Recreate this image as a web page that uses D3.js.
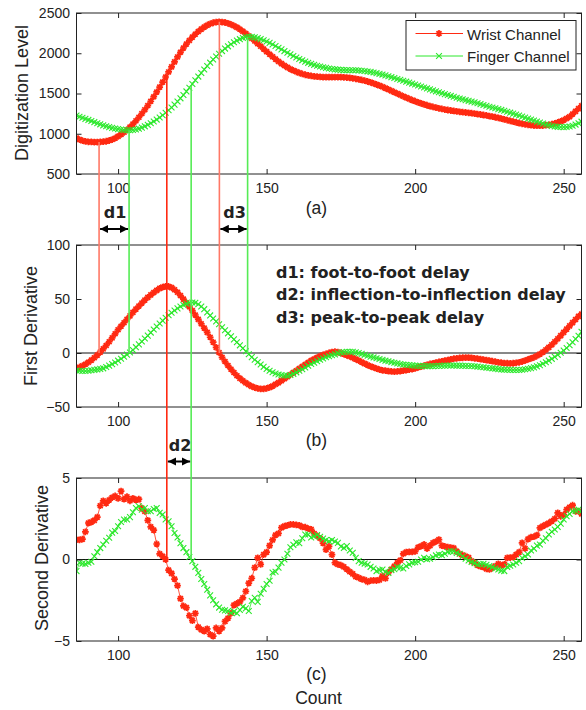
<!DOCTYPE html>
<html>
<head>
<meta charset="utf-8">
<script src="https://cdn.jsdelivr.net/npm/d3@7"></script>
<style>
body { margin: 0; background: #fff; }
text { font-family: "Liberation Sans", Arial, sans-serif; fill: #222; }
</style>
</head>
<body>
<svg id="svg"></svg>
<script>
// sample counts on the x axis (one sample per count)
var counts = d3.range(86, 257);

// (a) raw channels, digitization level
var wristLevel = [
	947, 928, 914, 905, 900, 898, 897, 897, 898, 901,
	907, 916, 928, 945, 967, 991, 1018, 1048, 1082, 1120,
	1161, 1204, 1251, 1299, 1350, 1404, 1460, 1519, 1580, 1642,
	1705, 1768, 1831, 1893, 1954, 2012, 2065, 2114, 2159, 2200,
	2237, 2270, 2300, 2326, 2348, 2366, 2379, 2387, 2390, 2388,
	2382, 2372, 2358, 2341, 2321, 2298, 2272, 2244, 2215, 2184,
	2152, 2119, 2086, 2053, 2020, 1988, 1957, 1927, 1898, 1871,
	1847, 1825, 1804, 1786, 1770, 1756, 1743, 1733, 1725, 1718,
	1713, 1709, 1706, 1704, 1703, 1703, 1703, 1704, 1704, 1703,
	1701, 1698, 1694, 1689, 1683, 1676, 1668, 1659, 1649, 1638,
	1625, 1612, 1598, 1583, 1567, 1550, 1533, 1516, 1499, 1482,
	1465, 1449, 1433, 1418, 1404, 1390, 1377, 1365, 1354, 1343,
	1333, 1324, 1316, 1308, 1301, 1295, 1289, 1283, 1278, 1273,
	1268, 1264, 1260, 1255, 1250, 1245, 1239, 1233, 1227, 1220,
	1213, 1205, 1197, 1188, 1179, 1170, 1160, 1151, 1141, 1132,
	1124, 1117, 1111, 1106, 1102, 1100, 1100, 1102, 1106, 1111,
	1119, 1128, 1140, 1154, 1170, 1190, 1212, 1245, 1278, 1312,
	1348];
var fingerLevel = [
	1226, 1212, 1198, 1185, 1172, 1158, 1144, 1130, 1117, 1104,
	1093, 1082, 1073, 1065, 1058, 1052, 1047, 1044, 1043, 1046,
	1053, 1063, 1076, 1092, 1110, 1130, 1152, 1176, 1202, 1230,
	1260, 1292, 1326, 1362, 1400, 1440, 1482, 1526, 1572, 1618,
	1664, 1710, 1755, 1799, 1842, 1883, 1922, 1959, 1994, 2027,
	2058, 2086, 2112, 2136, 2157, 2175, 2190, 2200, 2205, 2203,
	2197, 2188, 2176, 2162, 2146, 2129, 2110, 2090, 2069, 2048,
	2027, 2006, 1986, 1966, 1947, 1929, 1912, 1896, 1881, 1868,
	1856, 1845, 1835, 1826, 1818, 1811, 1805, 1800, 1796, 1793,
	1791, 1790, 1789, 1789, 1788, 1786, 1783, 1779, 1774, 1768,
	1761, 1753, 1744, 1735, 1725, 1714, 1703, 1692, 1681, 1670,
	1659, 1647, 1635, 1623, 1611, 1599, 1587, 1575, 1563, 1551,
	1539, 1527, 1515, 1503, 1492, 1481, 1470, 1459, 1448, 1437,
	1428, 1418, 1409, 1399, 1390, 1379, 1368, 1357, 1347, 1336,
	1326, 1316, 1306, 1296, 1286, 1274, 1262, 1250, 1238, 1226,
	1213, 1200, 1188, 1176, 1164, 1151, 1139, 1127, 1115, 1105,
	1097, 1090, 1086, 1083, 1082, 1084, 1090, 1100, 1114, 1131,
	1150];

// (b) first derivative
var wristFirst = [
	-14.2, -13.2, -11.9, -10.4, -8.6, -6.6, -4.4, -2, 0.8, 3.8,
	7, 10.4, 14, 17.8, 21.6, 24.8, 28, 31.2, 34.4, 37.6,
	40.6, 43.5, 46.3, 49, 51.5, 53.8, 56, 58, 59.8, 61,
	61.7, 61.6, 60.5, 58.6, 56.2, 53.2, 49.9, 46.4, 42.8, 39.2,
	35.2, 31.1, 27.1, 23.1, 19.1, 14.6, 10, 5.2, 0.4, -4,
	-7.9, -11.6, -15, -18.1, -21, -23.5, -25.7, -27.7, -29.4, -30.9,
	-32, -32.8, -33.2, -33.3, -32.7, -31.8, -30.6, -29, -27.4, -25.6,
	-23.8, -22, -20.1, -18.2, -16.4, -14.5, -12.6, -10.8, -8.9, -7.1,
	-5.6, -4.2, -2.9, -1.8, -0.9, 0, 0.8, 1.2, 0.8, 0,
	-1, -2.1, -3.2, -4.4, -5.6, -7, -8.4, -9.8, -11.1, -12.3,
	-13.4, -14.4, -15.3, -16, -16.4, -16.8, -17.1, -17.3, -17.1, -16.7,
	-16.3, -15.8, -15.3, -14.8, -14.2, -13.4, -12.6, -11.8, -11, -10.2,
	-9.6, -8.9, -8.3, -7.7, -7.1, -6.5, -5.9, -5.3, -4.9, -4.6,
	-4.4, -4.3, -4.3, -4.5, -4.9, -5.3, -5.7, -6.2, -6.6, -7.1,
	-7.6, -8.1, -8.6, -9, -9.3, -9.5, -9.6, -9.5, -9.1, -8.6,
	-7.9, -7, -6, -5, -4, -2.6, -1, 0.8, 3, 5.2,
	7.7, 10.4, 13.2, 16.1, 19.1, 22.1, 25.1, 28.1, 31, 33.9,
	36.1];
var fingerFirst = [
	-16.2, -16.5, -16.7, -16.7, -16.4, -16, -15.6, -15.2, -14.7, -14.2,
	-13, -11.7, -10.3, -8.8, -7.1, -5.3, -3.4, -1.5, 0.5, 2.7,
	5.4, 8, 10.7, 13.4, 16.1, 18.9, 21.7, 24.5, 27.3, 30,
	32.6, 35, 37.3, 39.4, 41.3, 43, 44.5, 45.6, 46.5, 46.8,
	46.5, 45.2, 43.1, 40.6, 37.6, 34.8, 32, 29.3, 26.6, 23.8,
	21, 18.2, 15.4, 12.6, 9.9, 7.1, 4.4, 1.6, -1.1, -3.8,
	-6.2, -8.5, -10.7, -12.8, -14.8, -16.4, -17.8, -19, -19.9, -20.4,
	-20.8, -21, -20.4, -19.3, -17.9, -16.5, -15, -13.4, -11.8, -10.2,
	-8.9, -7.6, -6.3, -5.1, -4, -3, -2.1, -1.3, -0.3, 0.4,
	0.8, 1.1, 1.2, 1.1, 0.6, -0.1, -0.8, -1.7, -2.5, -3.4,
	-4.1, -4.9, -5.6, -6.4, -7.1, -7.7, -8.4, -9, -9.6, -10.2,
	-10.6, -10.9, -11.2, -11.5, -11.7, -11.9, -12, -12.1, -12.2, -12.3,
	-12.2, -12, -11.9, -11.8, -11.7, -11.6, -11.6, -11.6, -11.7, -11.7,
	-11.8, -11.9, -12, -12.1, -12.3, -12.6, -12.9, -13.2, -13.6, -13.9,
	-14.2, -14.5, -14.9, -15.2, -15.4, -15.5, -15.6, -15.7, -15.7, -15.7,
	-15.5, -15.1, -14.6, -14, -13.3, -12.4, -11.3, -10, -8.6, -7.1,
	-5.4, -3.6, -1.7, 0.2, 2.2, 4.6, 7.2, 10, 12.9, 16,
	19.7];

// (c) second derivative
var wristSecond = [
	1.22, 1.2, 1.25, 1.7, 2.24, 2.3, 2.4, 2.6, 3.3, 3.6,
	3.45, 3.65, 3.8, 3.9, 3.75, 4.2, 3.7, 3.85, 3.6, 3.75,
	3.65, 3.7, 3.15, 2.95, 2.4, 2, 1.8, 0.95, 0.35, 0.2,
	0, -0.65, -0.85, -1.2, -1.6, -2.4, -2.85, -2.95, -3.45, -3.75,
	-3.3, -4.15, -4.3, -4.4, -4.25, -4.6, -4.7, -4.2, -4.4, -4.2,
	-3.8, -3.6, -3.3, -2.8, -2.7, -2.6, -2.35, -1.95, -1.45, -1.15,
	-0.5, 0.1, -0.3, 0.3, 0.45, 0.85, 1.2, 1.5, 1.6, 1.95,
	2.05, 2.1, 2.15, 2.15, 2.12, 2.1, 2, 1.98, 1.9, 1.85,
	1.6, 1.45, 1.3, 1, 0.6, 0.8, 0.3, -0.2, -0.3, -0.35,
	-0.45, -0.6, -0.75, -0.88, -1.05, -1.12, -1.2, -1.25, -1.37, -1.3,
	-1.28, -1.29, -1.25, -1.02, -1.16, -0.8, -0.6, -0.41, -0.2, -0.05,
	0.35, 0.45, 0.47, 0.47, 0.5, 0.75, 0.82, 0.92, 0.67, 0.85,
	1.02, 1.1, 1.22, 0.85, 0.8, 0.76, 0.73, 0.7, 0.5, 0.35,
	0.27, 0.2, 0.12, -0.1, -0.2, -0.35, -0.42, -0.47, -0.58, -0.61,
	-0.51, -0.4, -0.27, -0.38, -0.3, 0.1, 0.12, 0.14, 0.3, 0.45,
	1.02, 0.67, 1.25, 1.37, 1.4, 1.5, 1.94, 2.05, 2.14, 2.24,
	2.35, 2.5, 2.86, 2.65, 2.75, 3.06, 3.2, 3.33, 2.96, 2.95,
	2.8];
var fingerSecond = [
	-0.71, -0.2, -0.25, -0.27, -0.2, -0.14, 0.2, 0.45, 0.7, 0.92,
	1.15, 1.33, 1.65, 1.75, 2.04, 2.3, 2.45, 2.45, 2.6, 2.9,
	3.16, 3.27, 3.06, 3.16, 2.96, 2.96, 3.1, 3.16, 2.86, 2.76,
	2.45, 2.35, 2.04, 1.63, 1.35, 1, 0.7, 0.45, 0.15, -0.1,
	-0.45, -0.82, -1.2, -1.5, -1.85, -2.2, -2.5, -2.75, -2.95, -3.08,
	-3.12, -3.16, -3.27, -3.2, -3.3, -3.1, -2.9, -3, -3.16, -2.55,
	-2.35, -2.6, -2.1, -1.8, -1.5, -1.3, -0.8, -0.75, -0.5, -0.2,
	0, 0.35, 0.75, 0.9, 1.05, 1, 1.3, 1.53, 1.53, 1.35,
	1.43, 1.5, 1.4, 1.28, 1.2, 1.12, 1.2, 1.1, 1.02, 0.8,
	0.71, 0.82, 0.55, 0.41, 0.1, -0.1, -0.2, -0.25, -0.31, -0.45,
	-0.55, -0.71, -0.65, -0.61, -0.75, -0.82, -0.65, -0.6, -0.47, -0.5,
	-0.55, -0.4, -0.3, -0.2, -0.17, -0.14, 0, 0.1, 0.02, 0.05,
	0.14, 0.25, 0.31, 0.27, 0.35, 0.47, 0.5, 0.51, 0.4, 0.35,
	0.2, 0.05, -0.06, -0.15, -0.22, -0.31, -0.28, -0.27, -0.33, -0.4,
	-0.47, -0.55, -0.61, -0.68, -0.71, -0.45, -0.38, -0.31, -0.2, -0.1,
	0.1, 0.2, 0.31, 0.55, 0.67, 0.85, 0.92, 1.15, 1.3, 1.53,
	1.7, 1.84, 2, 2.2, 2.45, 2.65, 2.8, 2.96, 3, 3.06,
	2.96];

// feature points [wrist, finger] in counts
var footCounts = [93.6, 103.7];
var inflectionCounts = [116.4, 124.6];
var peakCounts = [134.1, 143.6];

var countTicks = [100, 150, 200, 250];
var levelTicks = [500, 1000, 1500, 2000, 2500];
var firstTicks = [-50, 0, 50, 100];
var secondTicks = [-5, 0, 5];
var seriesNames = ["Wrist Channel", "Finger Channel"];
var notes = ["d1: foot-to-foot delay", "d2: inflection-to-inflection delay", "d3: peak-to-peak delay"];

//////////////////////////////////////////////////////////////////////////////
var width = 586, height = 710;
var RED = "#ff2a12", GREEN = "#2ce82c", SALMON = "#ff7866", LGREEN = "#55ec55";

var svg = d3.select("#svg").attr("width", width).attr("height", height);

var x = d3.scaleLinear().domain([86, 256]).range([76.5, 581.5]);

var panels = [
	{ id: "a", top: 13, bottom: 174, domain: [500, 2500], ticks: levelTicks,
	  title: "Digitization Level", titleX: 28, titleY: 93, tag: "(a)", tagY: 214,
	  wrist: wristLevel, finger: fingerLevel, zero: false },
	{ id: "b", top: 245, bottom: 407, domain: [-50, 100], ticks: firstTicks,
	  title: "First Derivative", titleX: 36.5, titleY: 326, tag: "(b)", tagY: 446,
	  wrist: wristFirst, finger: fingerFirst, zero: true },
	{ id: "c", top: 478, bottom: 641, domain: [-5, 5], ticks: secondTicks,
	  title: "Second Derivative", titleX: 48, titleY: 558, tag: "(c)", tagY: 680,
	  wrist: wristSecond, finger: fingerSecond, zero: true }
];

panels.forEach(function(p) {
	p.y = d3.scaleLinear().domain(p.domain).range([p.bottom, p.top]);
});

// custom marker shapes: asterisk for wrist, x for finger
var starType = {
	draw: function(ctx, size) {
		var r = Math.sqrt(size) / 2, d = r * 0.72;
		ctx.moveTo(-r, 0); ctx.lineTo(r, 0);
		ctx.moveTo(0, -r); ctx.lineTo(0, r);
		ctx.moveTo(-d, -d); ctx.lineTo(d, d);
		ctx.moveTo(-d, d); ctx.lineTo(d, -d);
	}
};
var timesType = {
	draw: function(ctx, size) {
		var r = Math.sqrt(size) / 2;
		ctx.moveTo(-r, -r); ctx.lineTo(r, r);
		ctx.moveTo(-r, r); ctx.lineTo(r, -r);
	}
};
var starPath = d3.symbol().type(starType).size(46)();
var timesPath = d3.symbol().type(timesType).size(34)();

function valueAt(series, c) {
	var i = Math.floor(c) - counts[0], t = c - Math.floor(c);
	return series[i] * (1 - t) + series[i + 1] * t;
}

function drawSeries(g, p, values, color, path, sw) {
	var line = d3.line()
		.x(function(d, i) { return x(counts[i]); })
		.y(function(d) { return p.y(d); });
	g.append("path").datum(values)
		.attr("d", line).attr("fill", "none")
		.attr("stroke", color).attr("stroke-width", 1).attr("stroke-opacity", 0.8);
	g.selectAll("path.m" + color.slice(1))
		.data(values).enter().append("path")
		.attr("class", "m" + color.slice(1))
		.attr("d", path)
		.attr("transform", function(d, i) { return "translate(" + x(counts[i]) + "," + p.y(d) + ")"; })
		.attr("fill", "none").attr("stroke", color).attr("stroke-width", sw);
}

panels.forEach(function(p) {
	var g = svg.append("g");

	svg.append("clipPath").attr("id", "clip" + p.id)
		.append("rect").attr("x", x.range()[0]).attr("y", p.top)
		.attr("width", x.range()[1] - x.range()[0]).attr("height", p.bottom - p.top);

	var plot = g.append("g").attr("clip-path", "url(#clip" + p.id + ")");
	if (p.zero) {
		plot.append("line")
			.attr("x1", x.range()[0]).attr("x2", x.range()[1])
			.attr("y1", p.y(0)).attr("y2", p.y(0))
			.attr("stroke", "#111").attr("stroke-width", 1);
	}
	drawSeries(plot, p, p.wrist, RED, starPath, 1.7);
	drawSeries(plot, p, p.finger, GREEN, timesPath, 1.1);

	// axes, ticks pointing inward on all four sides
	g.append("g").attr("transform", "translate(0," + p.bottom + ")")
		.call(d3.axisBottom(x).tickValues(countTicks).tickSize(-5).tickPadding(9)
			.tickFormat(d3.format("d")));
	g.append("g").attr("transform", "translate(0," + p.top + ")")
		.call(d3.axisTop(x).tickValues(countTicks).tickSize(-5).tickFormat(""));
	g.append("g").attr("transform", "translate(" + x.range()[0] + ",0)")
		.call(d3.axisLeft(p.y).tickValues(p.ticks).tickSize(-5).tickPadding(6.5)
			.tickFormat(d3.format("d")));
	g.append("g").attr("transform", "translate(" + x.range()[1] + ",0)")
		.call(d3.axisRight(p.y).tickValues(p.ticks).tickSize(-5).tickFormat(""));
	g.selectAll(".domain").remove();
	g.selectAll(".tick line").attr("stroke", "#222");
	g.selectAll(".tick text").attr("fill", "#222").attr("font-size", 14)
		.attr("font-family", "Liberation Sans, Arial, sans-serif");

	g.append("rect")
		.attr("x", x.range()[0]).attr("y", p.top)
		.attr("width", x.range()[1] - x.range()[0]).attr("height", p.bottom - p.top)
		.attr("fill", "none").attr("stroke", "#222").attr("stroke-width", 1);

	g.append("text")
		.attr("transform", "translate(" + p.titleX + "," + p.titleY + ") rotate(-90)")
		.attr("text-anchor", "middle").attr("font-size", 18)
		.text(p.title);

	g.append("text").attr("x", 316.5).attr("y", p.tagY)
		.attr("text-anchor", "middle").attr("font-size", 17.5)
		.text(p.tag);
});

svg.append("text").attr("x", 318.5).attr("y", 704)
	.attr("text-anchor", "middle").attr("font-size", 17.5).text("Count");

//////////////////////////////////////////////////////////////////////////////
// feature lines, from the level curve down to the zero crossing
var pa = panels[0], pb = panels[1], pc = panels[2];
var features = [
	{ counts: footCounts, to: pb, colors: [SALMON, LGREEN] },
	{ counts: inflectionCounts, to: pc, colors: [RED, LGREEN] },
	{ counts: peakCounts, to: pb, colors: [SALMON, LGREEN] }
];
features.forEach(function(f) {
	[wristLevel, fingerLevel].forEach(function(series, k) {
		var c = f.counts[k];
		svg.append("line")
			.attr("x1", x(c)).attr("x2", x(c))
			.attr("y1", pa.y(valueAt(series, c)))
			.attr("y2", f.to.y(0))
			.attr("stroke", f.colors[k]).attr("stroke-width", 1.6);
	});
});

// delay arrows
var defs = svg.append("defs");
["s", "e"].forEach(function(k) {
	defs.append("marker").attr("id", "head" + k)
		.attr("viewBox", "0 0 10 10").attr("refX", k == "e" ? 10 : 0).attr("refY", 5)
		.attr("markerWidth", 4.2).attr("markerHeight", 4.2)
		.attr("markerUnits", "strokeWidth").attr("orient", "auto")
		.append("path")
		.attr("d", k == "e" ? "M0,0L10,5L0,10Z" : "M10,0L0,5L10,10Z")
		.attr("fill", "#000");
});
var arrows = [
	{ label: "d1", counts: footCounts, y: 229, textY: 218 },
	{ label: "d2", counts: inflectionCounts, y: 461.5, textY: 451 },
	{ label: "d3", counts: peakCounts, y: 229, textY: 218 }
];
arrows.forEach(function(a) {
	svg.append("line")
		.attr("x1", x(a.counts[0]) + 1).attr("x2", x(a.counts[1]) - 1)
		.attr("y1", a.y).attr("y2", a.y)
		.attr("stroke", "#000").attr("stroke-width", 2)
		.attr("marker-start", "url(#heads)").attr("marker-end", "url(#heade)");
	svg.append("text")
		.attr("x", (x(a.counts[0]) + x(a.counts[1])) / 2 + 1).attr("y", a.textY)
		.attr("text-anchor", "middle")
		.style("font-family", "DejaVu Sans, sans-serif").attr("font-weight", "bold")
		.attr("font-size", 16).text(a.label);
});

svg.selectAll("text.note").data(notes).enter().append("text")
	.attr("class", "note")
	.attr("x", 276).attr("y", function(d, i) { return 277.5 + i * 22.5; })
	.style("font-family", "DejaVu Sans, sans-serif").attr("font-weight", "bold")
	.attr("font-size", 16).text(function(d) { return d; });

//////////////////////////////////////////////////////////////////////////////
// legend
var legend = svg.append("g");
legend.append("rect").attr("x", 406).attr("y", 20.5).attr("width", 170).attr("height", 49.5)
	.attr("fill", "#fff").attr("stroke", "#222").attr("stroke-width", 1);
seriesNames.forEach(function(name, i) {
	var ly = 33.5 + i * 22.5;
	var color = i == 0 ? RED : GREEN;
	legend.append("line").attr("x1", 415.5).attr("x2", 463).attr("y1", ly).attr("y2", ly)
		.attr("stroke", color).attr("stroke-width", 1);
	legend.append("path").attr("d", i == 0 ? starPath : timesPath)
		.attr("transform", "translate(439," + ly + ")")
		.attr("fill", "none").attr("stroke", color).attr("stroke-width", i == 0 ? 1.7 : 1.1);
	legend.append("text").attr("x", 467).attr("y", ly + 6)
		.attr("font-size", 15).text(name);
});
</script>
</body>
</html>
